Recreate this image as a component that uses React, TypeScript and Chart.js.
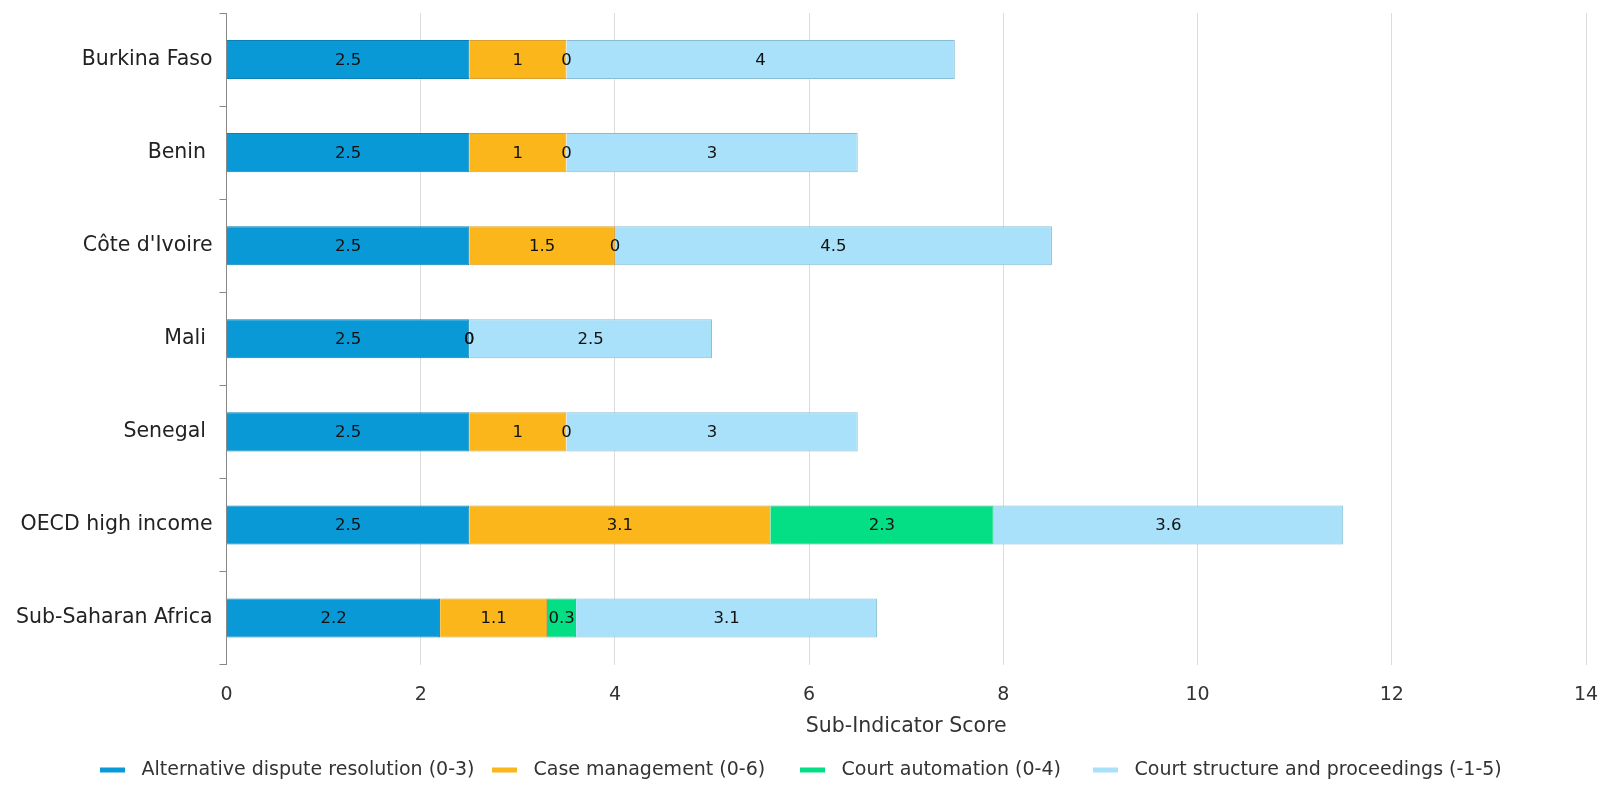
import React, { useEffect, useRef } from "react";
import { Chart, registerables } from "chart.js";

Chart.register(...registerables);

const categories = ["Burkina Faso", "Benin ", "Côte d'Ivoire", "Mali ", "Senegal ", "OECD high income", "Sub-Saharan Africa"];
const altDispute = [2.5, 2.5, 2.5, 2.5, 2.5, 2.5, 2.2];
const caseMgmt = [1, 1, 1.5, 0, 1, 3.1, 1.1];
const courtAuto = [0, 0, 0, 0, 0, 2.3, 0.3];
const courtStruct = [4, 3, 4.5, 2.5, 3, 3.6, 3.1];
const xTicks = [0, 2, 4, 6, 8, 10, 12, 14];

const labelPlugin = {
  id: "barLabels",
  afterDatasetsDraw(chart: any) {
    const ctx = chart.ctx;
    ctx.save();
    ctx.font = "16.5px 'DejaVu Sans'";
    ctx.fillStyle = "#111";
    ctx.textAlign = "center";
    ctx.textBaseline = "middle";
    chart.data.datasets.forEach((ds: any, i: number) => {
      const meta = chart.getDatasetMeta(i);
      meta.data.forEach((bar: any, j: number) => {
        const v = ds.data[j];
        const x = (bar.x + bar.base) / 2;
        ctx.fillText(String(v), x, bar.y + 1);
      });
    });
    ctx.restore();
  },
};

// legend layout (item left edges, in canvas px)
const legendStarts = [100, 492, 800, 1093];

const legendPlugin = {
  id: "lineLegend",
  afterDraw(chart: any) {
    const ctx = chart.ctx;
    ctx.save();
    ctx.font = "19px 'DejaVu Sans'";
    ctx.textBaseline = "middle";
    ctx.textAlign = "left";
    const lineW = 25;
    const lineH = 5;
    const gapText = 16.5;
    const y = 770;
    chart.data.datasets.forEach((ds: any, i: number) => {
      const x = legendStarts[i];
      ctx.fillStyle = ds.backgroundColor;
      ctx.fillRect(x, y - lineH / 2, lineW, lineH);
      ctx.fillStyle = "#333";
      ctx.fillText(ds.label, x + lineW + gapText, y);
    });
    ctx.restore();
  },
};

export default function App() {
  const ref = useRef<HTMLCanvasElement>(null);
  useEffect(() => {
    document.body.style.margin = "0";
    const chart = new Chart(ref.current!, {
      type: "bar",
      data: {
        labels: categories,
        datasets: [
          { label: "Alternative dispute resolution (0-3)", data: altDispute, backgroundColor: "#0899d6", borderColor: "#0a7fb3", borderWidth: 1 },
          { label: "Case management (0-6)", data: caseMgmt, backgroundColor: "#fbb61b", borderColor: "#d9a030", borderWidth: 1 },
          { label: "Court automation (0-4)", data: courtAuto, backgroundColor: "#04de84", borderColor: "#30b880", borderWidth: 1 },
          { label: "Court structure and proceedings (-1-5)", data: courtStruct, backgroundColor: "#a8e1f9", borderColor: "#88bcd2", borderWidth: 1 },
        ],
      },
      options: {
        indexAxis: "y",
        animation: false,
        responsive: false,
        maintainAspectRatio: false,
        layout: { padding: { top: 13, right: 23, left: 9, bottom: 35 } },
        datasets: { bar: { categoryPercentage: 0.42, barPercentage: 1 } },
        scales: {
          x: {
            stacked: true,
            min: 0,
            max: 14,
            afterBuildTicks: (axis: any) => {
              axis.ticks = xTicks.map((v) => ({ value: v }));
            },
            afterFit: (scale: any) => {
              scale.paddingRight = 0;
            },
            grid: { color: "#dcdcdc", tickLength: 0, lineWidth: 1 },
            border: { display: false },
            ticks: { font: { family: "DejaVu Sans", size: 19 }, color: "#333", padding: 19, maxRotation: 0 },
            title: { display: true, text: "Sub-Indicator Score", font: { family: "DejaVu Sans", size: 20.5 }, color: "#333", padding: { top: -11, bottom: 14 } },
          },
          y: {
            stacked: true,
            afterFit: (scale: any) => {
              scale.paddingTop = 0;
              scale.paddingBottom = 0;
            },
            grid: { drawOnChartArea: false, tickLength: 7, color: "#888", offset: true },
            border: { color: "#888" },
            ticks: { font: { family: "DejaVu Sans", size: 20.5 }, color: "#222", padding: 7 },
          },
        },
        plugins: {
          legend: { display: false },
          tooltip: { enabled: false },
        },
      },
      plugins: [labelPlugin, legendPlugin],
    } as any);
    return () => chart.destroy();
  }, []);
  return <canvas ref={ref} width={1609} height={788} style={{ display: "block" }} />;
}
